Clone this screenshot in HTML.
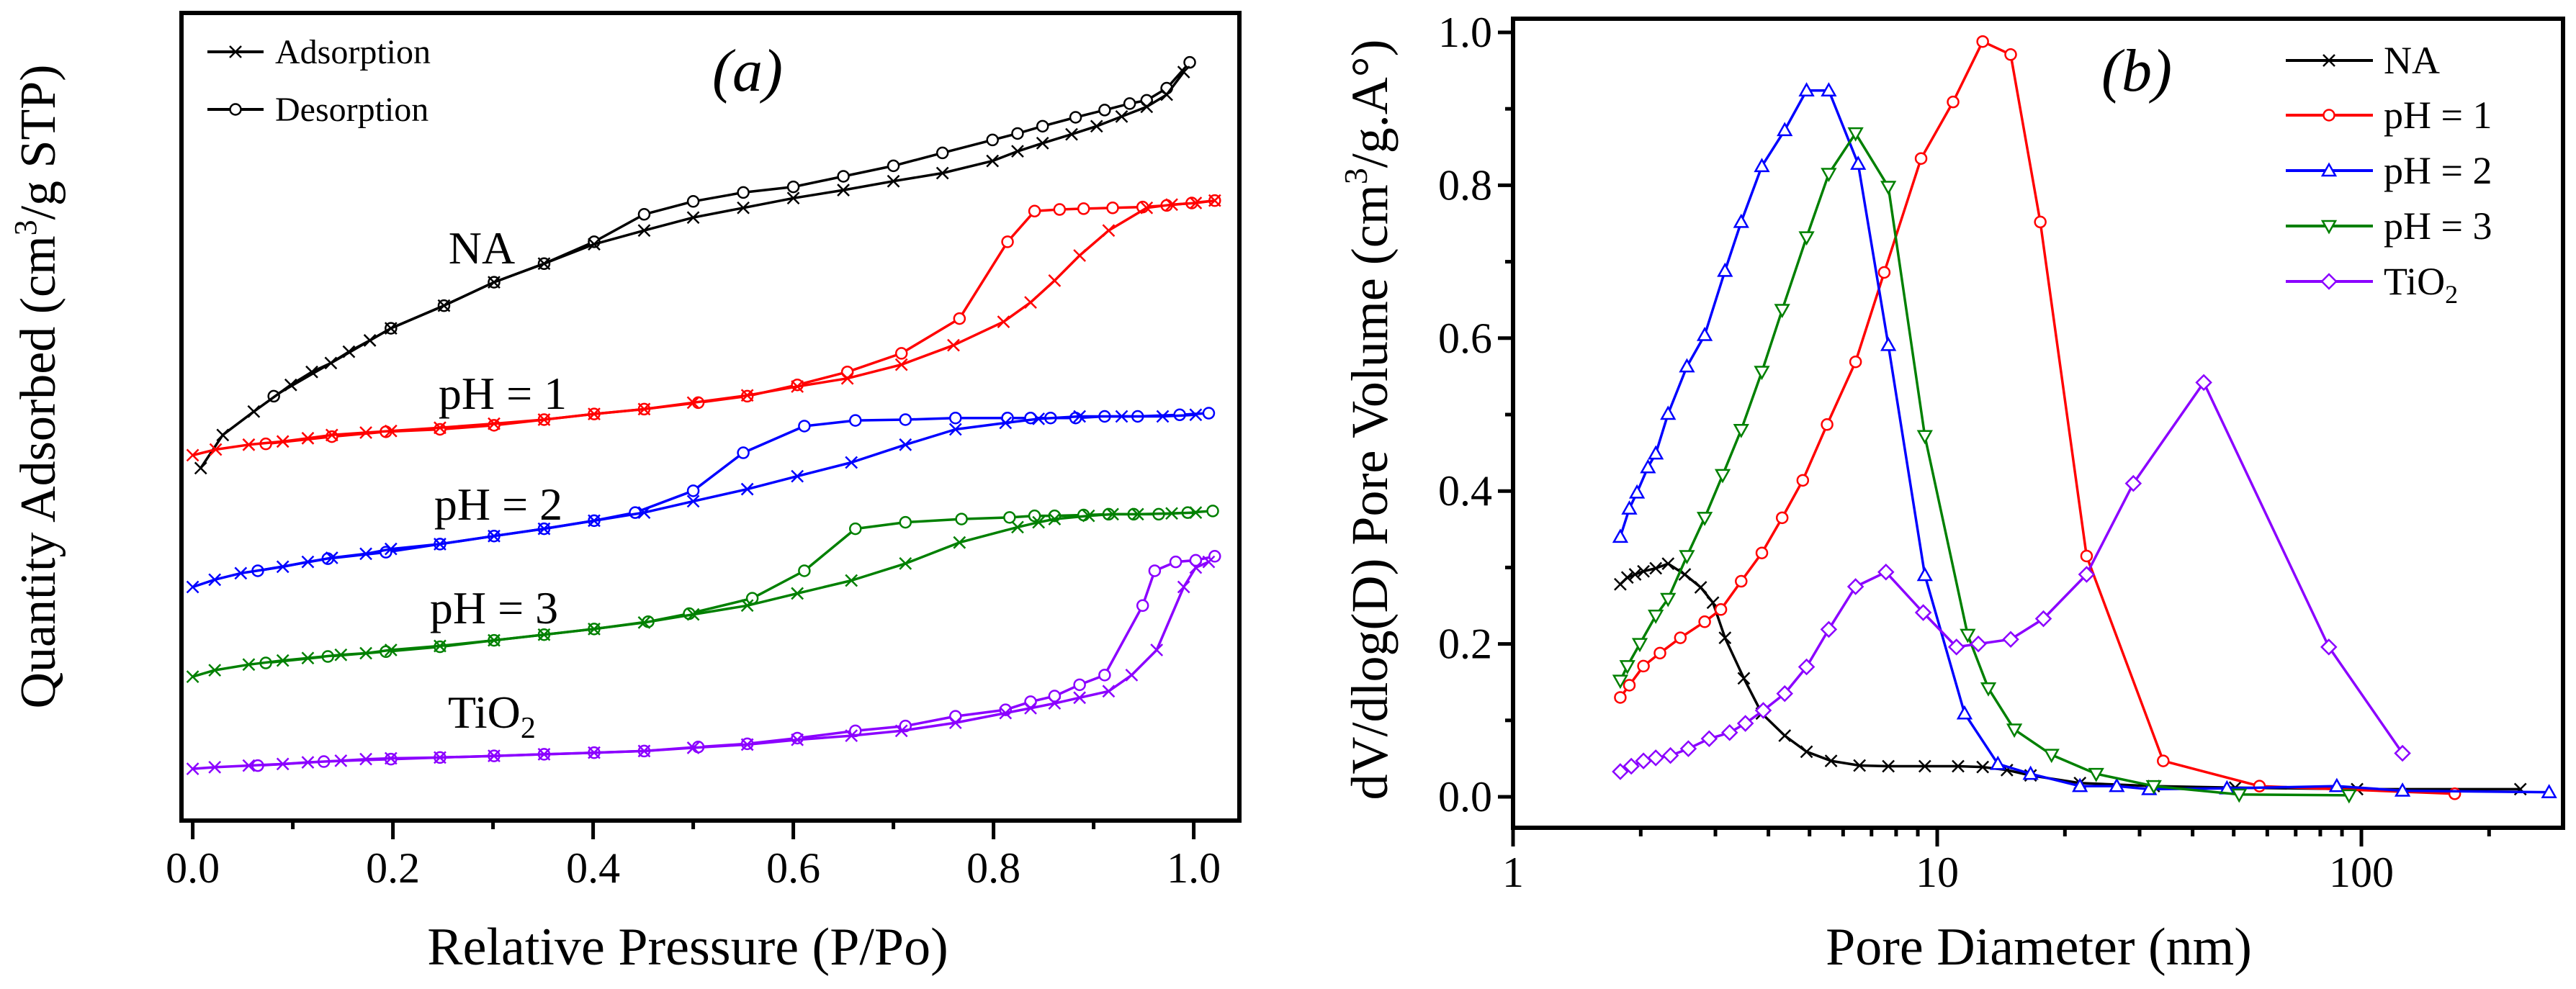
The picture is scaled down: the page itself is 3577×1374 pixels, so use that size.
<!DOCTYPE html>
<html><head><meta charset="utf-8"><style>
html,body{margin:0;padding:0;background:#fff;}
svg{display:block;font-family:"Liberation Serif",serif;}
</style></head><body>
<svg id="c" width="3577" height="1374" viewBox="0 0 3577 1374" xmlns="http://www.w3.org/2000/svg">
<rect width="3577" height="1374" fill="#fff"/>
<g id="pa"></g>
<g id="pb"></g>
</svg>
<script>
// ---------- Panel (a) data: relative pressure vs quantity adsorbed (arbitrary offset units) ----------
const naAdsP=[0.008,0.030,0.061,0.098,0.119,0.138,0.156,0.177,0.198,0.251,0.301,0.351,0.401,0.451,0.500,0.550,0.600,0.650,0.700,0.749,0.799,0.824,0.849,0.878,0.903,0.928,0.953,0.973,0.990];
const naAdsV=[43.6,47.7,50.6,53.9,55.5,56.6,58.0,59.4,60.9,63.7,66.6,68.9,71.3,73.0,74.6,75.8,77.0,78.0,79.1,80.1,81.6,82.8,83.8,84.9,85.9,87.1,88.3,89.8,92.6];
const naDesP=[0.996,0.973,0.953,0.936,0.911,0.882,0.849,0.824,0.799,0.749,0.700,0.650,0.600,0.550,0.500,0.451,0.401,0.351,0.301,0.251,0.198,0.081];
const naDesV=[93.8,90.6,89.1,88.7,87.9,87.0,85.9,85.0,84.2,82.6,81.0,79.7,78.4,77.7,76.6,75.0,71.6,68.9,66.6,63.7,60.9,52.5];
const p1AdsP=[0,0.023,0.056,0.09,0.115,0.139,0.173,0.198,0.247,0.301,0.351,0.401,0.451,0.5,0.554,0.604,0.654,0.708,0.76,0.81,0.837,0.861,0.886,0.915,0.953,0.978,1.002,1.021];
const p1AdsV=[45.2,45.9,46.5,46.9,47.3,47.7,48.0,48.2,48.6,49.1,49.6,50.3,50.9,51.7,52.6,53.7,54.7,56.4,58.8,61.7,64.1,66.8,69.9,73.0,75.8,76.2,76.4,76.7];
const p1DesP=[1.021,0.998,0.973,0.949,0.919,0.89,0.866,0.841,0.814,0.766,0.708,0.654,0.604,0.554,0.505,0.451,0.401,0.351,0.301,0.247,0.193,0.139,0.073];
const p1DesV=[76.7,76.4,76.1,75.9,75.8,75.7,75.6,75.4,71.6,62.1,57.8,55.5,53.9,52.5,51.7,50.9,50.3,49.6,48.9,48.4,48.1,47.5,46.6];
const p2AdsP=[0,0.022,0.048,0.09,0.115,0.139,0.173,0.198,0.247,0.301,0.351,0.401,0.451,0.5,0.554,0.604,0.658,0.712,0.762,0.812,0.845,0.886,0.928,0.969,1.002];
const p2AdsV=[28.9,29.8,30.6,31.4,32.0,32.5,33.0,33.6,34.2,35.2,36.1,37.1,38.1,39.5,41.0,42.6,44.3,46.5,48.4,49.2,49.7,50.0,50.0,50.0,50.2];
const p2DesP=[1.015,0.986,0.944,0.911,0.882,0.857,0.837,0.814,0.762,0.712,0.662,0.611,0.55,0.5,0.442,0.401,0.351,0.301,0.247,0.193,0.135,0.065];
const p2DesV=[50.4,50.2,50.0,50.0,49.8,49.8,49.8,49.8,49.8,49.6,49.5,48.8,45.5,40.8,38.1,37.1,36.1,35.2,34.2,33.2,32.4,30.9];
const p3AdsP=[0,0.022,0.056,0.09,0.115,0.148,0.173,0.198,0.247,0.301,0.351,0.401,0.451,0.5,0.554,0.604,0.658,0.712,0.766,0.824,0.845,0.861,0.895,0.919,0.944,0.978,1.002];
const p3AdsV=[17.8,18.6,19.3,19.8,20.1,20.5,20.7,21.1,21.6,22.3,23.0,23.7,24.5,25.5,26.6,28.1,29.7,31.8,34.4,36.3,36.9,37.3,37.7,37.9,37.9,38.0,38.1];
const p3DesP=[1.019,0.994,0.965,0.94,0.915,0.89,0.861,0.841,0.816,0.768,0.712,0.662,0.611,0.559,0.496,0.455,0.401,0.351,0.301,0.247,0.193,0.135,0.073];
const p3DesV=[38.3,38.1,37.9,37.9,37.9,37.8,37.7,37.7,37.5,37.3,36.9,36.1,30.9,27.5,25.6,24.6,23.7,23.0,22.3,21.5,20.9,20.3,19.5];
const tiAdsP=[0,0.022,0.056,0.09,0.115,0.148,0.173,0.198,0.247,0.301,0.351,0.401,0.451,0.5,0.554,0.604,0.658,0.708,0.762,0.812,0.837,0.861,0.886,0.915,0.938,0.963,0.99,1.002,1.015];
const tiAdsV=[6.4,6.6,6.8,7.0,7.2,7.4,7.6,7.7,7.8,8.0,8.2,8.4,8.6,9.0,9.4,10.0,10.5,11.1,12.1,13.3,13.9,14.5,15.2,16.0,18.0,21.1,28.9,31.3,32.0];
const tiDesP=[1.021,1.002,0.982,0.961,0.949,0.911,0.886,0.861,0.837,0.812,0.762,0.712,0.662,0.604,0.554,0.505,0.451,0.401,0.351,0.301,0.247,0.198,0.131,0.065];
const tiDesV=[32.7,32.2,32.0,30.9,26.6,18.0,16.8,15.4,14.7,13.7,12.9,11.7,11.1,10.2,9.5,9.1,8.6,8.4,8.2,8.0,7.8,7.6,7.3,6.8];
const aTicks=[0,0.2,0.4,0.6,0.8,1.0];
const aTickLabels=["0.0","0.2","0.4","0.6","0.8","1.0"];

// ---------- Panel (b) data: pore diameter (nm) vs dV/dlog(D) ----------
const naD=[1.79,1.86,1.94,2.03,2.17,2.32,2.54,2.77,2.96,3.16,3.50,3.86,4.37,4.92,5.62,6.56,7.67,9.35,11.2,12.8,14.6,16.6,21.7,32.4,50.4,97.7,237];
const naVal=[0.278,0.287,0.291,0.295,0.299,0.305,0.291,0.274,0.254,0.208,0.155,0.109,0.080,0.059,0.047,0.041,0.040,0.040,0.040,0.039,0.035,0.028,0.018,0.014,0.012,0.010,0.010];
const p1D=[1.79,1.88,2.03,2.22,2.48,2.83,3.09,3.45,3.86,4.31,4.82,5.50,6.42,7.50,9.16,10.9,12.8,14.9,17.5,22.5,34.1,57.5,166];
const p1Val=[0.130,0.146,0.171,0.188,0.208,0.229,0.245,0.282,0.319,0.365,0.414,0.487,0.569,0.686,0.835,0.909,0.988,0.971,0.752,0.315,0.047,0.014,0.004];
const p2D=[1.79,1.88,1.96,2.08,2.17,2.32,2.57,2.83,3.16,3.45,3.86,4.37,4.92,5.55,6.51,7.67,9.35,11.6,13.9,16.6,21.7,26.5,31.6,48.2,87.5,125,277];
const p2Val=[0.340,0.377,0.398,0.431,0.449,0.501,0.563,0.604,0.688,0.752,0.825,0.872,0.924,0.924,0.828,0.591,0.290,0.109,0.043,0.030,0.014,0.014,0.010,0.011,0.014,0.008,0.006];
const p3D=[1.79,1.86,1.99,2.17,2.32,2.57,2.83,3.12,3.45,3.86,4.31,4.92,5.55,6.42,7.67,9.35,11.8,13.2,15.2,18.6,23.7,32.4,51.5,93.5];
const p3Val=[0.152,0.171,0.200,0.237,0.259,0.315,0.365,0.421,0.480,0.556,0.637,0.732,0.815,0.868,0.798,0.472,0.212,0.142,0.088,0.055,0.030,0.014,0.003,0.002];
const tiD=[1.79,1.90,2.03,2.17,2.35,2.59,2.90,3.24,3.53,3.89,4.37,4.92,5.55,6.42,7.57,9.27,11.1,12.5,14.9,17.8,22.5,29.0,42.5,83.8,125];
const tiVal=[0.033,0.040,0.047,0.051,0.054,0.063,0.076,0.084,0.096,0.113,0.135,0.170,0.219,0.275,0.294,0.241,0.196,0.200,0.206,0.233,0.291,0.410,0.542,0.196,0.057];
const bYTicks=[0,0.2,0.4,0.6,0.8,1.0];
const bYTickLabels=["0.0","0.2","0.4","0.6","0.8","1.0"];
const bXTicks=[1,10,100];
const bXTickLabels=["1","10","100"];

const NS="http://www.w3.org/2000/svg";
function mk(parent,tag,attrs,text){const e=document.createElementNS(NS,tag);for(const k in attrs)e.setAttribute(k,attrs[k]);if(text!==undefined)e.textContent=text;parent.appendChild(e);return e;}

// axis functions
const aX=p=>267.6+p*1390;
const aY=v=>1140-v*11.23;
const bX=d=>2101+Math.log10(d)*589;
const bY=v=>1107-v*1062;

function marker(g,type,x,y,color){
  const s=8;let e;
  if(type==='x'){e=mk(g,'path',{d:`M${x-s} ${y-s}L${x+s} ${y+s}M${x-s} ${y+s}L${x+s} ${y-s}`,stroke:color,'stroke-width':2.5,fill:'none'});}
  else if(type==='o'){e=mk(g,'circle',{cx:x,cy:y,r:7.5,stroke:color,'stroke-width':2.5,fill:'#fff'});}
  else if(type==='tri'){e=mk(g,'path',{d:`M${x} ${y-9}L${x+9} ${y+7}L${x-9} ${y+7}Z`,stroke:color,'stroke-width':2.5,fill:'#fff'});}
  else if(type==='itri'){e=mk(g,'path',{d:`M${x} ${y+9}L${x+9} ${y-7}L${x-9} ${y-7}Z`,stroke:color,'stroke-width':2.5,fill:'#fff'});}
  else if(type==='dia'){e=mk(g,'path',{d:`M${x} ${y-10}L${x+10} ${y}L${x} ${y+10}L${x-10} ${y}Z`,stroke:color,'stroke-width':2.5,fill:'#fff'});}
  
  
}
function series(parent,name,xs,ys,fx,fy,color,type,w){
  const g=mk(parent,'g',{});
  
  
  const pts=xs.map((x,i)=>fx(x).toFixed(1)+','+fy(ys[i]).toFixed(1)).join(' ');
  const l=mk(g,'polyline',{points:pts,fill:'none',stroke:color,'stroke-width':w||3.5,'stroke-linejoin':'round'});
  
  
  xs.forEach((x,i)=>marker(g,type,fx(x),fy(ys[i]),color));
}

// ---------- Panel (a) ----------
const pa=document.getElementById('pa');
const clipA=mk(pa,'clipPath',{id:'ca'});mk(clipA,'rect',{x:252,y:18,width:1469,height:1122});
const plotA=mk(pa,'g',{'clip-path':'url(#ca)'});


const A=[['na','#000',naAdsP,naAdsV,naDesP,naDesV],['ph1','#ff0000',p1AdsP,p1AdsV,p1DesP,p1DesV],['ph2','#0000ff',p2AdsP,p2AdsV,p2DesP,p2DesV],['ph3','#008000',p3AdsP,p3AdsV,p3DesP,p3DesV],['tio2','#8b00ff',tiAdsP,tiAdsV,tiDesP,tiDesV]];
A.forEach(s=>{series(plotA,s[0]+'-desorption',s[4],s[5],aX,aY,s[1],'o',3.5);series(plotA,s[0]+'-adsorption',s[2],s[3],aX,aY,s[1],'x',3.5);});
const boxA=mk(pa,'rect',{x:252,y:18,width:1469,height:1122,fill:'none',stroke:'#000','stroke-width':6});

const axA=mk(pa,'g',{});
for(let i=0;i<=10;i++){const p=i/10,x=aX(p),major=i%2===0;mk(axA,'line',{x1:x,y1:1140,x2:x,y2:major?1166:1152,stroke:'#000','stroke-width':5});}
aTicks.forEach((t,i)=>{const e=mk(axA,'text',{x:aX(t),y:1226,'font-size':60,'text-anchor':'middle'},aTickLabels[i]);});
let e;
e=mk(pa,'text',{x:955,y:1340,'font-size':74,'text-anchor':'middle'},'Relative Pressure (P/Po)');
e=mk(pa,'text',{x:0,y:0,'font-size':70,'text-anchor':'middle',transform:'translate(76,537) rotate(-90)'});
e.innerHTML='Quantity Adsorbed (cm<tspan font-size="44" dy="-26">3</tspan><tspan dy="26">/g STP)</tspan>';

e=mk(pa,'text',{x:1038,y:126,'font-size':84,'font-style':'italic','text-anchor':'middle'},'(a)');
// legend a
const lgA=mk(pa,'g',{});
[['Adsorption','x',72],['Desorption','o',152]].forEach(r=>{const g=mk(lgA,'g',{});
 mk(g,'line',{x1:288,y1:r[2],x2:366,y2:r[2],stroke:'#000','stroke-width':4});marker(g,r[1],327,r[2],'#000');
 mk(g,'text',{x:382,y:r[2]+16,'font-size':48},r[0]);});
[['NA',669,346],['pH = 1',698,548],['pH = 2',692,702],['pH = 3',686,846]].forEach(l=>{const t=mk(pa,'text',{x:l[1],y:l[2]+20,'font-size':64,'text-anchor':'middle'},l[0]);});
e=mk(pa,'text',{x:622,y:1011,'font-size':64});e.innerHTML='TiO<tspan font-size="42" dy="14">2</tspan>';

// ---------- Panel (b) ----------
const pb=document.getElementById('pb');
const clipB=mk(pb,'clipPath',{id:'cb'});mk(clipB,'rect',{x:2101,y:26,width:1458,height:1124});
const plotB=mk(pb,'g',{'clip-path':'url(#cb)'});


series(plotB,'series-na',naD,naVal,bX,bY,'#000','x',3.5);
series(plotB,'series-ph1',p1D,p1Val,bX,bY,'#ff0000','o',3.5);
series(plotB,'series-ph2',p2D,p2Val,bX,bY,'#0000ff','tri',3.5);
series(plotB,'series-ph3',p3D,p3Val,bX,bY,'#008000','itri',3.5);
series(plotB,'series-tio2',tiD,tiVal,bX,bY,'#8b00ff','dia',3.5);
const boxB=mk(pb,'rect',{x:2101,y:26,width:1458,height:1124,fill:'none',stroke:'#000','stroke-width':6});

const ayB=mk(pb,'g',{});
for(let i=0;i<=10;i++){const y=bY(i/10),major=i%2===0;mk(ayB,'line',{x1:2101,y1:y,x2:major?2080:2090,y2:y,stroke:'#000','stroke-width':5});}
bYTicks.forEach((t,i)=>{const el=mk(ayB,'text',{x:2072,y:bY(t)+20,'font-size':60,'text-anchor':'end'},bYTickLabels[i]);});
const axB=mk(pb,'g',{});
[1,10,100].forEach(dec=>{for(let k=1;k<=9;k++){const d=dec*k,x=bX(d);if(x>3560)continue;mk(axB,'line',{x1:x,y1:1148,x2:x,y2:k===1?1176:1162,stroke:'#000','stroke-width':5});}});
bXTicks.forEach((t,i)=>{const el=mk(axB,'text',{x:bX(t),y:1232,'font-size':60,'text-anchor':'middle'},bXTickLabels[i]);});
e=mk(pb,'text',{x:2831,y:1340,'font-size':74,'text-anchor':'middle'},'Pore Diameter (nm)');
e=mk(pb,'text',{x:0,y:0,'font-size':72,'text-anchor':'middle',transform:'translate(1926,583) rotate(-90)'});
e.innerHTML='dV/dlog(D) Pore Volume (cm<tspan font-size="46" dy="-28">3</tspan><tspan dy="28">/g.A°)</tspan>';

e=mk(pb,'text',{x:2967,y:126,'font-size':84,'font-style':'italic','text-anchor':'middle'},'(b)');
const lgB=mk(pb,'g',{});
[['NA','#000','x',84],['pH = 1','#ff0000','o',160],['pH = 2','#0000ff','tri',237],['pH = 3','#008000','itri',314],['TiO2','#8b00ff','dia',391]].forEach(r=>{
 const g=mk(lgB,'g',{});
 mk(g,'line',{x1:3174,y1:r[3],x2:3295,y2:r[3],stroke:r[1],'stroke-width':4});marker(g,r[2],3234,r[3],r[1]);
 const t=mk(g,'text',{x:3310,y:r[3]+18,'font-size':54});
 if(r[0]==='TiO2'){t.innerHTML='TiO<tspan font-size="36" dy="12">2</tspan>';}else{t.textContent=r[0];}
});
</script>
</body></html>
